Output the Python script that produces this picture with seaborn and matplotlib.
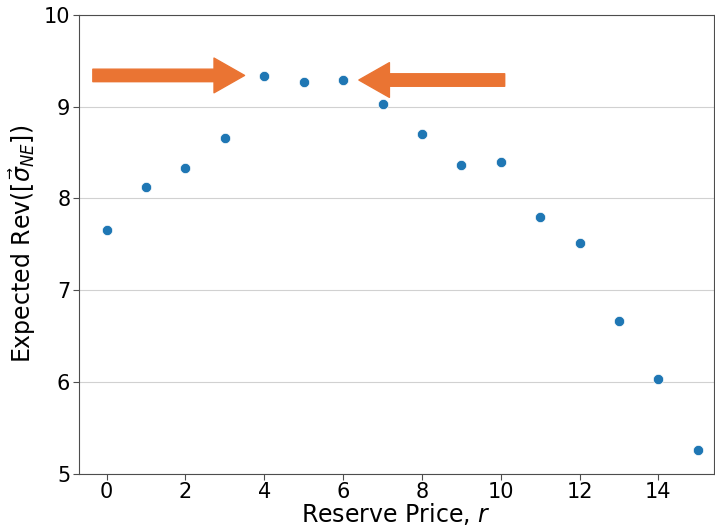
import numpy as np
import pandas as pd
import seaborn as sns
import matplotlib.pyplot as plt

reserve_price = list(range(16))
expected_rev = [7.66, 8.12, 8.33, 8.66, 9.33, 9.27, 9.29, 9.03,
                8.70, 8.36, 8.40, 7.80, 7.51, 6.67, 6.03, 5.26]

df = pd.DataFrame({"r": reserve_price, "rev": expected_rev})

sns.set_style("whitegrid", {"axes.edgecolor": "0.3", "xtick.bottom": True,
                            "ytick.left": True, "grid.color": "0.82",
                            "text.color": "black", "axes.labelcolor": "black",
                            "xtick.color": "black", "ytick.color": "black"})
plt.rcParams["font.family"] = ["DejaVu Sans"]

fig = plt.figure(figsize=(7.15, 5.3), dpi=100)
ax = fig.add_axes([0.110, 0.106, 0.888, 0.866])

sns.scatterplot(data=df, x="r", y="rev", ax=ax, color="#1f77b4", s=55,
                edgecolor="white", linewidth=0.5, zorder=3)

ax.set_xlim(-0.71, 15.4)
ax.set_ylim(5, 10)
ax.set_xticks(range(0, 16, 2))
ax.set_yticks(range(5, 11))
ax.grid(axis="x", visible=False)
ax.tick_params(labelsize=15, length=4, pad=2)
ax.tick_params(colors="0.3", labelcolor="black")
ax.set_xlabel("Reserve Price, $r$", fontsize=17, labelpad=-1)
ax.set_ylabel(r"Expected Rev($[\vec{\sigma}_{NE}]$)", fontsize=17, labelpad=4)

# arrows pointing at the two peak points
orange = "#EA7433"
arrow_kw = dict(arrowstyle="simple,head_length=1.1,head_width=1.25,tail_width=0.45",
                color=orange, mutation_scale=20, shrinkA=0, shrinkB=0)
ax.annotate("", xy=(reserve_price[4] - 0.5, expected_rev[4] + 0.01),
            xytext=(-0.35, expected_rev[4] + 0.01), arrowprops=arrow_kw)
ax.annotate("", xy=(reserve_price[6] + 0.4, expected_rev[6]),
            xytext=(10.1, expected_rev[6]), arrowprops=arrow_kw)

fig.savefig("out.png", dpi=100)
